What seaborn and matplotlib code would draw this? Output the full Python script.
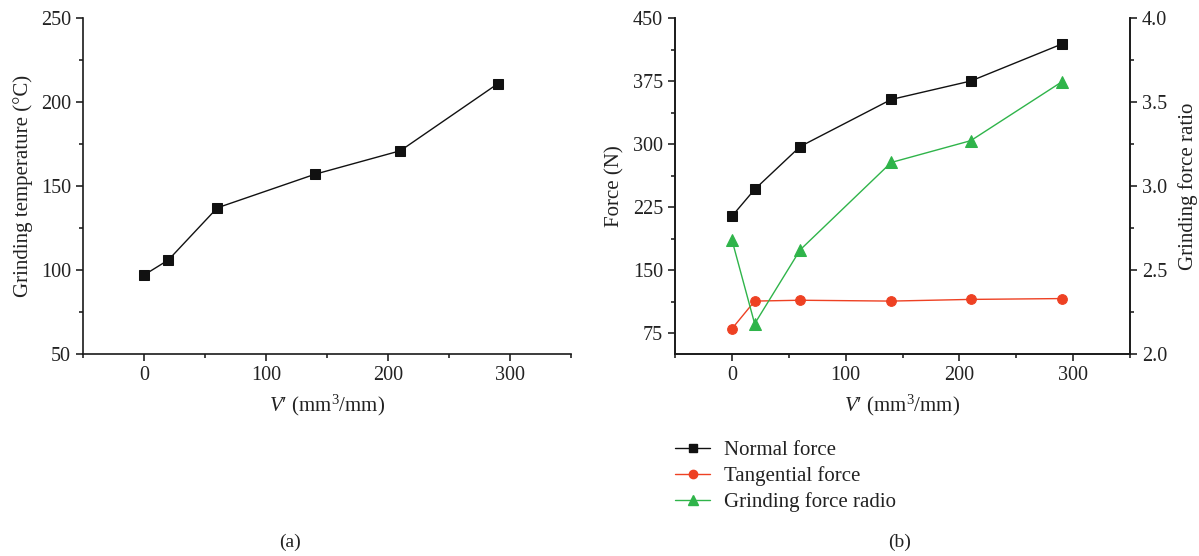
import matplotlib
matplotlib.use("Agg")
import matplotlib.pyplot as plt
from matplotlib.ticker import MultipleLocator, FormatStrFormatter
from matplotlib.lines import Line2D
import seaborn as sns
import pandas as pd

# Specific material removal V' (mm^3/mm)
volume = [0, 20, 60, 140, 210, 290]
# Grinding temperature (°C)
temperature = [97, 106, 137, 157, 171, 211]
# Grinding forces (N)
normal_force = [214, 246, 297, 353, 375, 419]
tangential_force = [80, 113, 114, 113, 115, 116]
# Ratio of normal to tangential force
force_ratio = [2.68, 2.18, 2.62, 3.14, 3.27, 3.62]

series_names = ["Normal force", "Tangential force", "Grinding force radio"]
panel_labels = ["(a)", "(b)"]

sns.set_theme(style="ticks")
plt.rcParams["font.family"] = ["Liberation Serif", "DejaVu Serif"]
plt.rcParams["mathtext.fontset"] = "custom"
plt.rcParams["mathtext.rm"] = "Liberation Serif"
plt.rcParams["mathtext.it"] = "Liberation Serif:italic"
plt.rcParams["axes.linewidth"] = 1.2
plt.rcParams["axes.edgecolor"] = "#1a1a1a"
plt.rcParams["xtick.major.size"] = 5
plt.rcParams["ytick.major.size"] = 5
plt.rcParams["xtick.minor.size"] = 3
plt.rcParams["ytick.minor.size"] = 3

BLACK = "#111111"
RED = "#ee4123"
GREEN = "#2fb44a"
TEXT = "#222222"
tick_fs = 14.5
label_fs = 15

fig = plt.figure(figsize=(11.99, 5.56), dpi=100)
ax_a = fig.add_axes([0.0692, 0.3633, 0.4073, 0.6043])
ax_b = fig.add_axes([0.563, 0.3633, 0.3795, 0.6043])

df = pd.DataFrame({"V": volume, "T": temperature, "Fn": normal_force,
                   "Ft": tangential_force, "R": force_ratio})

xlabel = r"$V$′ (mm$^3$/mm)"

# Panel (a): grinding temperature
sns.lineplot(data=df, x="V", y="T", ax=ax_a, color=BLACK, marker="s",
             markersize=7, markeredgecolor=BLACK, linewidth=1.0)
ax_a.set_xlim(-50, 350)
ax_a.set_ylim(50, 250)
ax_a.xaxis.set_major_locator(MultipleLocator(100))
ax_a.xaxis.set_minor_locator(MultipleLocator(50))
ax_a.yaxis.set_major_locator(MultipleLocator(50))
ax_a.yaxis.set_minor_locator(MultipleLocator(25))
ax_a.set_xlabel(xlabel, fontsize=label_fs, labelpad=6, color=TEXT)
ax_a.set_ylabel("Grinding temperature (°C)", fontsize=label_fs, labelpad=6,
                color=TEXT)
sns.despine(ax=ax_a)

# Panel (b): grinding forces and force ratio
sns.lineplot(data=df, x="V", y="Fn", ax=ax_b, color=BLACK, marker="s",
             markersize=7, markeredgecolor=BLACK, linewidth=1.0)
sns.lineplot(data=df, x="V", y="Ft", ax=ax_b, color=RED, marker="o",
             markersize=7, markeredgecolor=RED, linewidth=1.0)
ax_b.set_xlim(-50, 350)
ax_b.set_ylim(50, 450)
ax_b.xaxis.set_major_locator(MultipleLocator(100))
ax_b.xaxis.set_minor_locator(MultipleLocator(50))
ax_b.set_yticks([75, 150, 225, 300, 375, 450])
ax_b.yaxis.set_minor_locator(MultipleLocator(37.5))
ax_b.set_xlabel(xlabel, fontsize=label_fs, labelpad=6, color=TEXT)
ax_b.set_ylabel("Force (N)", fontsize=label_fs, labelpad=6, color=TEXT)

ax_r = ax_b.twinx()
sns.lineplot(data=df, x="V", y="R", ax=ax_r, color=GREEN, marker="^",
             markersize=8, markeredgecolor=GREEN, linewidth=1.0)
ax_r.set_ylim(2.0, 4.0)
ax_r.yaxis.set_major_locator(MultipleLocator(0.5))
ax_r.yaxis.set_minor_locator(MultipleLocator(0.25))
ax_r.yaxis.set_major_formatter(FormatStrFormatter("%.1f"))
ax_r.set_ylabel("Grinding force ratio", fontsize=label_fs, labelpad=8,
                color=TEXT)
ax_r.spines["top"].set_visible(False)
ax_b.spines["top"].set_visible(False)

for ax in (ax_a, ax_b, ax_r):
    ax.tick_params(which="both", direction="out", labelsize=tick_fs,
                   color=BLACK, labelcolor=TEXT, width=1.1)

# Legend below panel (b)
handles = [
    Line2D([], [], color=BLACK, marker="s", markersize=6, linewidth=1.0),
    Line2D([], [], color=RED, marker="o", markersize=6, linewidth=1.0),
    Line2D([], [], color=GREEN, marker="^", markersize=7, linewidth=1.0),
]
leg = fig.legend(handles, series_names, loc="upper left",
                 bbox_to_anchor=(0.563, 0.207), frameon=False,
                 fontsize=15, handlelength=1.7, handletextpad=0.65,
                 labelspacing=0.28, borderpad=0, borderaxespad=0)
for t in leg.get_texts():
    t.set_color(TEXT)

fig.text(0.2419, 0.025, panel_labels[0], ha="center", va="center",
         fontsize=14, color=TEXT)
fig.text(0.7506, 0.025, panel_labels[1], ha="center", va="center",
         fontsize=14, color=TEXT)

fig.savefig("out.png", dpi=100)
